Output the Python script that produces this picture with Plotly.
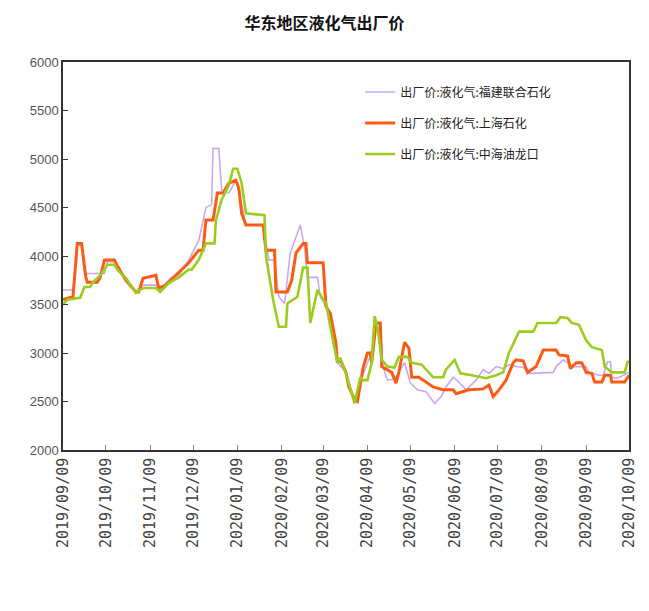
import plotly.graph_objects as go

# ---- data ----
fj_dates = ["2019-09-09","2019-09-16","2019-09-19","2019-09-22","2019-09-24","2019-10-08","2019-10-10","2019-10-15",
            "2019-10-17","2019-10-23","2019-10-30","2019-11-04","2019-11-13","2019-11-16","2019-11-20","2019-11-24",
            "2019-11-29","2019-12-06","2019-12-13","2019-12-18","2019-12-22","2019-12-23","2019-12-27","2019-12-29",
            "2020-01-03","2020-01-08","2020-01-11","2020-01-15","2020-01-27","2020-01-31","2020-02-04","2020-02-07",
            "2020-02-11","2020-02-15","2020-02-22","2020-02-25","2020-02-27","2020-03-05","2020-03-07","2020-03-11",
            "2020-03-14","2020-03-19","2020-03-25","2020-03-31","2020-04-04","2020-04-09","2020-04-11","2020-04-15",
            "2020-04-18","2020-04-20","2020-04-23","2020-04-28","2020-05-05","2020-05-09","2020-05-14","2020-05-20",
            "2020-05-26","2020-05-31","2020-06-03","2020-06-08","2020-06-12","2020-06-17","2020-06-24","2020-06-29",
            "2020-07-03","2020-07-08","2020-07-13","2020-07-17","2020-07-22","2020-07-27","2020-07-31","2020-08-17",
            "2020-08-19","2020-08-24","2020-08-27","2020-08-30","2020-09-09","2020-09-11","2020-09-18","2020-09-21",
            "2020-09-24","2020-09-26","2020-09-27","2020-10-01","2020-10-06","2020-10-09"]
fj_values = [3650,3650,4110,4110,3820,3820,3940,3940,
             3860,3780,3630,3700,3700,3650,3720,3780,
             3800,3960,4160,4500,4530,5110,5110,4680,
             4650,4780,4600,4320,4320,3960,3960,3580,
             3510,4030,4320,4090,3780,3780,3580,3480,
             3410,2900,2800,2500,2700,2900,2960,3270,
             3250,2850,2720,2730,2900,2690,2620,2600,
             2480,2560,2650,2750,2700,2620,2720,2830,
             2790,2860,2840,2880,2860,2850,2790,2800,
             2860,2930,2900,2860,2860,2800,2770,2770,
             2910,2910,2750,2740,2780,2800]

sh_dates = ["2019-09-09","2019-09-16","2019-09-19","2019-09-22","2019-09-25","2019-09-26","2019-10-03","2019-10-05",
            "2019-10-08","2019-10-15","2019-10-17","2019-10-23","2019-10-30","2019-11-01","2019-11-04","2019-11-13",
            "2019-11-15","2019-11-20","2019-11-24","2019-12-01","2019-12-06","2019-12-13","2019-12-16","2019-12-18",
            "2019-12-23","2019-12-26","2019-12-30","2020-01-03","2020-01-08","2020-01-10","2020-01-12","2020-01-15",
            "2020-01-27","2020-01-29","2020-02-04","2020-02-05","2020-02-13","2020-02-16","2020-02-19","2020-02-24",
            "2020-02-26","2020-02-27","2020-03-09","2020-03-11","2020-03-14","2020-03-18","2020-03-19","2020-03-21",
            "2020-03-25","2020-03-27","2020-03-31","2020-04-02","2020-04-04","2020-04-06","2020-04-09","2020-04-11",
            "2020-04-12","2020-04-15","2020-04-18","2020-04-19","2020-04-26","2020-04-29","2020-05-01","2020-05-05",
            "2020-05-08","2020-05-10","2020-05-15","2020-05-20","2020-05-25","2020-06-01","2020-06-08","2020-06-10",
            "2020-06-19","2020-06-29","2020-07-03","2020-07-06","2020-07-10","2020-07-15","2020-07-20","2020-07-22",
            "2020-07-27","2020-07-30","2020-08-05","2020-08-10","2020-08-19","2020-08-21","2020-08-27","2020-08-29",
            "2020-09-02","2020-09-06","2020-09-09","2020-09-13","2020-09-15","2020-09-20","2020-09-22","2020-09-26",
            "2020-09-27","2020-10-06","2020-10-09"]
sh_values = [3550,3580,4130,4130,3780,3730,3730,3780,
             3960,3960,3900,3750,3630,3630,3770,3800,
             3670,3700,3760,3860,3930,4060,4060,4370,
             4370,4650,4650,4750,4780,4700,4440,4320,
             4320,4060,4060,3630,3630,3750,4030,4130,
             4130,3930,3930,3480,3410,3100,2900,2930,
             2800,2650,2520,2500,2700,2850,3000,3000,
             2900,3310,3310,2860,2800,2690,2800,3110,
             3050,2750,2750,2700,2650,2620,2620,2580,
             2620,2630,2670,2550,2620,2720,2900,2930,
             2920,2800,2860,3030,3030,2980,2970,2840,
             2900,2900,2800,2790,2700,2700,2770,2770,
             2700,2700,2770]

zh_dates = ["2019-09-09","2019-09-12","2019-09-21","2019-09-24","2019-09-28","2019-09-30","2019-10-05","2019-10-10",
            "2019-10-15","2019-10-17","2019-10-23","2019-10-30","2019-11-04","2019-11-13","2019-11-16","2019-11-22",
            "2019-11-29","2019-12-06","2019-12-08","2019-12-13","2019-12-18","2019-12-24","2019-12-25","2019-12-29",
            "2020-01-03","2020-01-06","2020-01-09","2020-01-12","2020-01-15","2020-01-28","2020-01-29","2020-02-03",
            "2020-02-07","2020-02-12","2020-02-13","2020-02-20","2020-02-24","2020-02-27","2020-02-29","2020-03-05",
            "2020-03-09","2020-03-11","2020-03-14","2020-03-19","2020-03-21","2020-03-25","2020-03-31","2020-04-04",
            "2020-04-06","2020-04-09","2020-04-12","2020-04-14","2020-04-16","2020-04-19","2020-04-23","2020-04-28",
            "2020-05-01","2020-05-07","2020-05-10","2020-05-17","2020-05-20","2020-05-25","2020-06-01","2020-06-03",
            "2020-06-09","2020-06-13","2020-06-21","2020-07-01","2020-07-08","2020-07-13","2020-07-17","2020-07-21",
            "2020-07-24","2020-08-03","2020-08-06","2020-08-19","2020-08-22","2020-08-27","2020-08-30","2020-09-04",
            "2020-09-09","2020-09-13","2020-09-20","2020-09-22","2020-09-27","2020-10-06","2020-10-08","2020-10-09"]
zh_values = [3500,3550,3570,3680,3680,3730,3800,3910,
             3910,3860,3770,3620,3670,3670,3630,3720,
             3780,3860,3860,3960,4130,4130,4370,4580,
             4730,4900,4900,4750,4440,4420,4000,3550,
             3270,3270,3510,3580,3880,3880,3310,3650,
             3550,3520,3270,2900,2950,2790,2480,2750,
             2720,2720,2900,3380,3270,2930,2860,2850,
             2960,2960,2900,2880,2830,2750,2750,2830,
             2930,2790,2770,2740,2770,2800,3000,3130,
             3220,3220,3310,3310,3370,3360,3310,3290,
             3130,3060,3030,2860,2800,2800,2910,2910]

names = ["出厂价:液化气:福建联合石化", "出厂价:液化气:上海石化", "出厂价:液化气:中海油龙口"]
colors = ["#C9A8F0", "#FF5A14", "#9ACD1E"]
widths = [1.6, 3.0, 2.6]

fig = go.Figure()
for i, (d, v) in enumerate([(fj_dates, fj_values), (sh_dates, sh_values), (zh_dates, zh_values)]):
    fig.add_trace(go.Scatter(x=d, y=v, mode="lines", name=names[i],
                             legendgroup=f"g{i}",
                             line=dict(color=colors[i], width=widths[i])))

fig.update_layout(
    width=649, height=611,
    paper_bgcolor="white", plot_bgcolor="white",
    margin=dict(l=63, r=11, t=62, b=161),
    title=dict(text="<b>华东地区液化气出厂价</b>", x=0.5, xanchor="center", y=0.962, yanchor="middle",
               font=dict(family="Noto Sans CJK SC", size=16, color="#111")),
    font=dict(family="Liberation Sans", color="#333"),
    legend=dict(x=0.525, y=0.96, xanchor="left", yanchor="top", bgcolor="rgba(0,0,0,0)",
                font=dict(family="Noto Sans CJK SC", size=12, color="#222"),
                tracegroupgap=12, itemwidth=30),
    showlegend=True,
)
fig.update_xaxes(type="date", range=["2019-09-09", "2020-10-09"], tick0="2019-09-09", dtick="M1",
                 tickformat="%Y/%m/%d", tickangle=-90, ticks="inside", ticklen=5, tickcolor="#888",
                 showline=True, linecolor="#333", linewidth=1.5, mirror=True, showgrid=False,
                 tickfont=dict(family="DejaVu Sans Mono", size=15, color="#444"), zeroline=False)
fig.update_yaxes(range=[2000, 6000], dtick=500, ticks="inside", ticklen=5, tickcolor="#333",
                 showline=True, linecolor="#333", linewidth=1.5, mirror=True, showgrid=False,
                 tickfont=dict(family="Liberation Sans", size=13, color="#555"), zeroline=False)

fig.write_html("out.html")
